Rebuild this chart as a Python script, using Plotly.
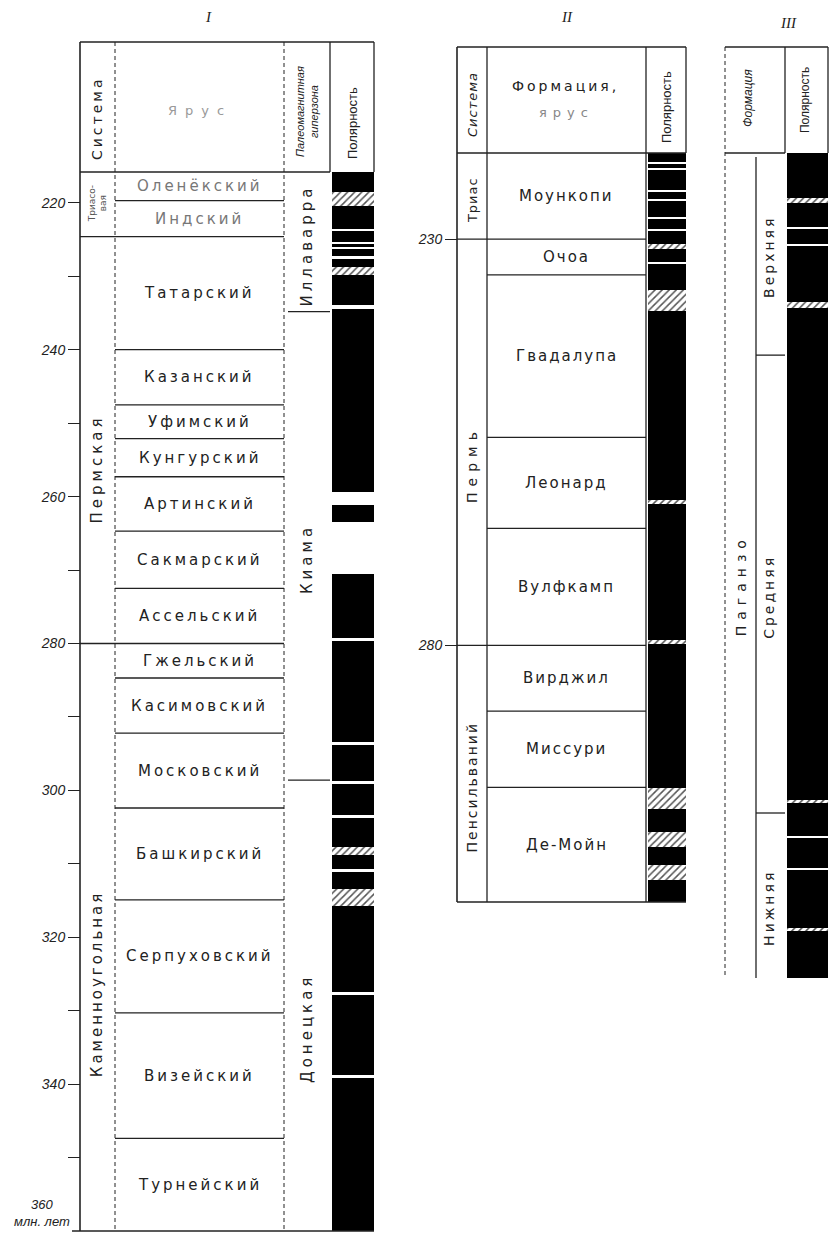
import plotly.graph_objects as go

# ---------- I: Europe (million years) ----------
stages_1 = ["Оленёкский", "Индский", "Татарский", "Казанский", "Уфимский", "Кунгурский",
            "Артинский", "Сакмарский", "Ассельский", "Гжельский", "Касимовский", "Московский",
            "Башкирский", "Серпуховский", "Визейский", "Турнейский"]
stage_ages_1 = [215.8, 219.7, 224.6, 240.0, 247.5, 252.1, 257.3, 264.7, 272.5, 280.0,
                284.7, 292.2, 302.4, 314.9, 330.3, 347.4, 360.0]
systems_1 = ["Триасо-<br>вая", "Пермская", "Каменноугольная"]
system_ages_1 = [215.8, 224.6, 280.0, 360.0]
system_label_at_1 = [220.2, 256.3, 326.4]
hyperzones_1 = ["Иллаварра", "Киама", "Донецкая"]
hyperzone_ages_1 = [215.8, 234.8, 298.6, 360.0]
hyperzone_label_at_1 = [225.8, 268.5, 332.5]
white_from_1 = [223.5, 225.3, 226.0, 227.3, 233.9, 259.4, 263.5, 279.3, 293.4, 298.7, 303.4, 310.7, 327.4, 338.7]
white_to_1 = [223.8, 225.6, 226.3, 227.6, 234.5, 261.1, 270.6, 279.7, 293.8, 299.1, 303.8, 311.1, 327.8, 339.1]
hatch_from_1 = [218.5, 228.8, 307.7, 313.4]
hatch_to_1 = [220.4, 229.8, 308.8, 315.7]
ticks_1 = [220, 230, 240, 250, 260, 270, 280, 290, 300, 310, 320, 330, 340, 350]
ticktext_1 = ["220", "", "240", "", "260", "", "280", "", "300", "", "320", "", "340", ""]

# ---------- II: North America ----------
formations_2 = ["Моункопи", "Очоа", "Гвадалупа", "Леонард", "Вулфкамп", "Вирджил", "Миссури", "Де-Мойн"]
formation_ages_2 = [219.4, 230.0, 234.4, 254.4, 265.6, 280.0, 288.1, 297.5, 311.6]
systems_2 = ["Триас", "Пермь", "Пенсильваний"]
system_ages_2 = [219.4, 230.0, 280.0, 311.6]
system_label_at_2 = [225.2, 257.8, 297.5]
white_from_2 = [220.5, 221.3, 224.0, 225.1, 227.3, 228.8, 232.8]
white_to_2 = [220.8, 221.55, 224.25, 225.35, 227.55, 229.05, 233.1]
hatch_from_2 = [230.6, 236.3, 262.1, 279.4, 297.6, 303.0, 307.1]
hatch_to_2 = [231.2, 238.9, 262.6, 279.9, 300.1, 304.8, 308.9]
ticks_2 = [230, 280]

# ---------- III: Paganzo (relative section, %) ----------
members_3 = ["Верхняя", "Средняя", "Нижняя"]
member_pos_3 = [0, 24.5, 80.0, 100]
member_label_at_3 = [12.6, 53.8, 91.5]
formation_3 = "Паганзо"
formation_label_at_3 = 52.4
white_from_3 = [9.0, 11.0, 82.8, 86.7]
white_to_3 = [9.25, 11.3, 83.05, 86.95]
hatch_from_3 = [5.5, 18.1, 78.4, 93.9]
hatch_to_3 = [6.1, 18.8, 78.8, 94.3]

W, H = 833, 1239
FONT = "DejaVu Sans"
INK = "#222"
NARROW = "Liberation Sans Narrow, Liberation Sans"


def ppy(p):
    return 1 - p / H


shapes = []
ann = []


def line(x0, y0, x1, y1, yref, width=1.3, dash="solid", color=INK):
    shapes.append(dict(type="line", xref="x", yref=yref, x0=x0, x1=x1, y0=y0, y1=y1,
                       line=dict(color=color, width=width, dash=dash)))


def vline(x, p0, p1, **kw):
    line(x, ppy(p0), x, ppy(p1), "paper", **kw)


def hline(p, x0, x1, **kw):
    line(x0, ppy(p), x1, ppy(p), "paper", **kw)


def text(x, y, yref, s, size=14, angle=0, color=INK, ls=0, family=FONT, style="normal",
         xanchor="center", yanchor="middle"):
    if ls:
        s = '<span style="letter-spacing:%dpx">%s</span>' % (ls, s)
    ann.append(dict(x=x, y=y, xref="x", yref=yref, text=s, showarrow=False, textangle=angle,
                    font=dict(size=size, color=color, family=family, style=style),
                    xanchor=xanchor, yanchor=yanchor, align="center"))


fig = go.Figure()


def polarity(xc, w, yax, top, bot, wf, wt, hf, ht):
    fig.add_trace(go.Bar(x=[xc], y=[bot - top], base=[top], width=[w], xaxis="x", yaxis=yax,
                         marker=dict(color="black", line=dict(width=0)), hoverinfo="skip"))
    fig.add_trace(go.Bar(x=[xc] * len(wf), y=[b - a for a, b in zip(wf, wt)], base=wf,
                         width=[w] * len(wf), xaxis="x", yaxis=yax,
                         marker=dict(color="white", line=dict(width=0)), hoverinfo="skip"))
    fig.add_trace(go.Bar(x=[xc] * len(hf), y=[b - a for a, b in zip(hf, ht)], base=hf,
                         width=[w] * len(hf), xaxis="x", yaxis=yax,
                         marker=dict(color="white", line=dict(width=0),
                                     pattern=dict(shape="/", fgcolor="#555", bgcolor="white",
                                                  size=5, solidity=0.3, fillmode="replace")),
                         hoverinfo="skip"))


DASH = "4px,3px"

# ---------- panel I ----------
L1, S1, Z1, P1, R1 = 80, 115, 284, 330, 374
TOP1, HEAD1, BOT1 = 42, 172, 1231
polarity((P1 + R1) / 2 + 1, R1 - P1 - 2, "y", stage_ages_1[0], stage_ages_1[-1],
         white_from_1, white_to_1, hatch_from_1, hatch_to_1)

vline(L1, TOP1, BOT1, width=1.6)
hline(TOP1, L1, R1, width=1.6)
vline(S1, TOP1, BOT1, dash=DASH, width=1)
vline(Z1, TOP1, BOT1, dash=DASH, width=1)
vline(P1, TOP1, HEAD1)
vline(R1, TOP1, HEAD1)
hline(HEAD1, L1, P1)
hline(BOT1, L1 - 8, R1, width=1.6)
for a in stage_ages_1[1:-1]:
    x0 = L1 if a in system_ages_1 else S1
    line(x0, a, Z1, a, "y")
for a in hyperzone_ages_1[1:-1]:
    line(Z1 + 4, a, P1, a, "y")

for i, s in enumerate(stages_1):
    mid = (stage_ages_1[i] + stage_ages_1[i + 1]) / 2
    col = "#777" if i < 2 else INK
    text((S1 + Z1) / 2, mid, "y", s, size=15, ls=3, color=col)
text(98, system_label_at_1[0], "y", systems_1[0], size=9, angle=-90, color="#555")
text(97, system_label_at_1[1], "y", systems_1[1], size=15, angle=-90, ls=4)
text(97, system_label_at_1[2], "y", systems_1[2], size=15, angle=-90, ls=3)
for s, a in zip(hyperzones_1, hyperzone_label_at_1):
    text(307, a, "y", s, size=15, angle=-90, ls=4)

text(208, ppy(17), "paper", "I", size=15, family="Liberation Serif", style="italic")
text(97, ppy(119), "paper", "Система", size=14, angle=-90, ls=3)
text(200, ppy(110), "paper", "Ярус", size=13, ls=8, color="#999")
text(307, ppy(112), "paper", "Палеомагнитная<br>гиперзона", size=11, angle=-90,
     style="italic", family=NARROW)
text(352, ppy(123), "paper", "Полярность", size=13, angle=-90, family=NARROW)
text(42, 360, "y", "360<br>млн. лет", size=13, style="italic", family="Liberation Sans",
     yanchor="bottom")

# ---------- panel II ----------
L2, S2, P2, R2 = 457, 487, 646, 686
TOP2, HEAD2, BOT2 = 47, 153, 902
polarity((P2 + R2) / 2 + 1, R2 - P2 - 2, "y2", formation_ages_2[0], formation_ages_2[-1],
         white_from_2, white_to_2, hatch_from_2, hatch_to_2)

vline(L2, TOP2, BOT2, width=1.6)
vline(S2, TOP2, BOT2)
vline(P2, TOP2, BOT2)
vline(R2, TOP2, HEAD2)
hline(TOP2, L2, R2, width=1.6)
hline(HEAD2, L2, R2)
hline(BOT2, L2, R2, width=1.6)
for a in formation_ages_2[1:-1]:
    x0 = L2 if a in system_ages_2 else S2
    line(x0, a, P2, a, "y2")

for i, s in enumerate(formations_2):
    mid = (formation_ages_2[i] + formation_ages_2[i + 1]) / 2
    text((S2 + P2) / 2, mid, "y2", s, size=15, ls=2)
text(472, system_label_at_2[0], "y2", systems_2[0], size=13, angle=-90, ls=1)
text(472, system_label_at_2[1], "y2", systems_2[1], size=14, angle=-90, ls=6)
text(472, system_label_at_2[2], "y2", systems_2[2], size=14, angle=-90, ls=2)

text(567, ppy(17), "paper", "II", size=15, family="Liberation Serif", style="italic")
text(472, ppy(105), "paper", "Система", size=13, angle=-90, ls=1, style="italic")
text(565, ppy(86), "paper", "Формация,", size=14, ls=3)
text(566, ppy(112), "paper", "ярус", size=13, ls=6, color="#888")
text(666, ppy(107), "paper", "Полярность", size=13, angle=-90, family=NARROW)

# ---------- panel III ----------
L3, M3, P3, R3 = 725, 756, 785, 828
TOP3, HEAD3, BOT3 = 47, 153, 978
polarity((P3 + R3) / 2 + 1, R3 - P3 - 2, "y3", member_pos_3[0], member_pos_3[-1],
         white_from_3, white_to_3, hatch_from_3, hatch_to_3)

vline(L3, TOP3, BOT3, dash=DASH, width=1)
vline(M3, HEAD3 + 4, BOT3)
vline(P3, TOP3, HEAD3)
vline(R3, TOP3, HEAD3)
hline(TOP3, L3, R3, width=1.6)
hline(HEAD3, L3, P3)
for a in member_pos_3[1:-1]:
    line(M3, a, P3, a, "y3")
for s, a in zip(members_3, member_label_at_3):
    text(769, a, "y3", s, size=14, angle=-90, ls=3)
text(741, formation_label_at_3, "y3", formation_3, size=14, angle=-90, ls=6)

text(788, ppy(23), "paper", "III", size=15, family="Liberation Serif", style="italic")
text(748, ppy(98), "paper", "Формация", size=12, angle=-90, style="italic", family=NARROW)
text(805, ppy(100), "paper", "Полярность", size=12, angle=-90, family=NARROW)

fig.update_layout(
    width=W, height=H,
    margin=dict(l=0, r=0, t=0, b=0),
    paper_bgcolor="white", plot_bgcolor="rgba(0,0,0,0)",
    showlegend=False, barmode="overlay", bargap=0,
    shapes=shapes, annotations=ann,
    xaxis=dict(range=[0, W], domain=[0, 1], visible=False, fixedrange=True),
    yaxis=dict(domain=[ppy(BOT1), ppy(HEAD1)], range=[stage_ages_1[-1], stage_ages_1[0]],
               anchor="free", position=L1 / W, showgrid=False, zeroline=False, showline=False,
               tickvals=ticks_1, ticktext=ticktext_1, ticks="outside", ticklen=12,
               tickwidth=1.3, tickcolor=INK,
               tickfont=dict(size=14, color=INK, family="Liberation Sans", style="italic")),
    yaxis2=dict(domain=[ppy(BOT2), ppy(HEAD2)], range=[formation_ages_2[-1], formation_ages_2[0]],
                anchor="free", position=L2 / W, showgrid=False, zeroline=False, showline=False,
                tickvals=ticks_2, ticktext=[str(t) for t in ticks_2], ticks="outside", ticklen=12,
                tickwidth=1.3, tickcolor=INK,
                tickfont=dict(size=14, color=INK, family="Liberation Sans", style="italic")),
    yaxis3=dict(domain=[ppy(BOT3), ppy(HEAD3)], range=[member_pos_3[-1], member_pos_3[0]],
                anchor="free", position=L3 / W, visible=False),
)

# the page's default 8px body margin would shift the drawing
fig.write_html("out.html", config={"displayModeBar": False},
               post_script="document.body.style.margin='0';")
